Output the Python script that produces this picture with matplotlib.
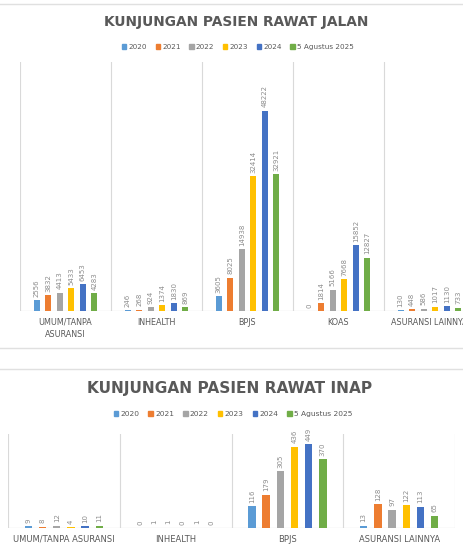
import matplotlib.pyplot as plt
from matplotlib.lines import Line2D
from matplotlib.patches import Patch
import numpy as np

W, H = 463, 549

series = ["2020", "2021", "2022", "2023", "2024", "5 Agustus 2025"]
colors = ["#5B9BD5", "#ED7D31", "#A5A5A5", "#FFC000", "#4472C4", "#70AD47"]

# rawat jalan (outpatient)
jalan_categories = ["UMUM/TANPA\nASURANSI", "INHEALTH", "BPJS", "KOAS", "ASURANSI LAINNYA"]
jalan_2020 = [2556, 246, 3605, 0, 130]
jalan_2021 = [3832, 268, 8025, 1814, 448]
jalan_2022 = [4413, 924, 14938, 5166, 586]
jalan_2023 = [5433, 1374, 32414, 7668, 1017]
jalan_2024 = [6453, 1830, 48222, 15852, 1130]
jalan_2025 = [4283, 869, 32921, 12827, 733]

# rawat inap (inpatient)
inap_categories = ["UMUM/TANPA ASURANSI", "INHEALTH", "BPJS", "ASURANSI LAINNYA"]
inap_2020 = [9, 0, 116, 13]
inap_2021 = [8, 1, 179, 128]
inap_2022 = [12, 1, 305, 97]
inap_2023 = [4, 0, 436, 122]
inap_2024 = [10, 1, 449, 113]
inap_2025 = [11, 0, 370, 65]

TEXT = "#595959"
GRID = "#d9d9d9"


def px_axes(fig, left, top, right, bottom):
    return fig.add_axes([left / W, 1 - bottom / H, (right - left) / W, (bottom - top) / H])


def draw_chart(ax, categories, values, ymax, label_size, cat_size):
    n = len(categories)
    x = np.arange(n)
    step = 0.127
    width = 0.066
    for i, (vals, color) in enumerate(zip(values, colors)):
        bars = ax.bar(x + (i - 2.5) * step, vals, width=width, color=color, zorder=2)
        ax.bar_label(bars, rotation=90, padding=2.5, fontsize=label_size,
                     color="#8c8c8c")
    ax.set_xlim(-0.5, n - 0.5)
    ax.set_ylim(0, ymax)
    for b in np.arange(n + 1) - 0.5:
        ax.axvline(b, color=GRID, lw=0.8, zorder=1)
    ax.axhline(0, color=GRID, lw=0.9, zorder=1)
    for s in ax.spines.values():
        s.set_visible(False)
    ax.set_yticks([])
    ax.set_xticks(x)
    ax.set_xticklabels(categories, fontsize=cat_size, color=TEXT, linespacing=1.45)
    ax.tick_params(axis="x", length=0, pad=5)


fig = plt.figure(figsize=(W / 100, H / 100), dpi=100)

# separators
for y in (4, 348, 369):
    fig.add_artist(Line2D([0, 1], [1 - y / H, 1 - y / H], color="#e0e0e0", lw=1.0))

handles = [Patch(color=c) for c in colors]

# top chart
ax1 = px_axes(fig, 20, 62, 475, 311)
draw_chart(ax1, jalan_categories,
           [jalan_2020, jalan_2021, jalan_2022, jalan_2023, jalan_2024, jalan_2025],
           60000, 5, 5.8)
fig.text(236 / W, 1 - 22 / H, "KUNJUNGAN PASIEN RAWAT JALAN", ha="center", va="center",
         fontsize=9.9, fontweight="bold", color=TEXT)
fig.legend(handles, series, loc="center", bbox_to_anchor=(238 / W, 1 - 47 / H), ncol=6,
           frameon=False, fontsize=5.2, handlelength=0.6, handleheight=0.6,
           handletextpad=0.3, columnspacing=1.2, labelcolor=TEXT)

# bottom chart
ax2 = px_axes(fig, 8, 434, 455, 528)
draw_chart(ax2, inap_categories,
           [inap_2020, inap_2021, inap_2022, inap_2023, inap_2024, inap_2025],
           505, 5, 6)
fig.text(230 / W, 1 - 388 / H, "KUNJUNGAN PASIEN RAWAT INAP", ha="center", va="center",
         fontsize=11.1, fontweight="bold", color=TEXT)
fig.legend(handles, series, loc="center", bbox_to_anchor=(233 / W, 1 - 414 / H), ncol=6,
           frameon=False, fontsize=5.4, handlelength=0.6, handleheight=0.6,
           handletextpad=0.3, columnspacing=1.2, labelcolor=TEXT)

fig.savefig("out.png", dpi=100)
